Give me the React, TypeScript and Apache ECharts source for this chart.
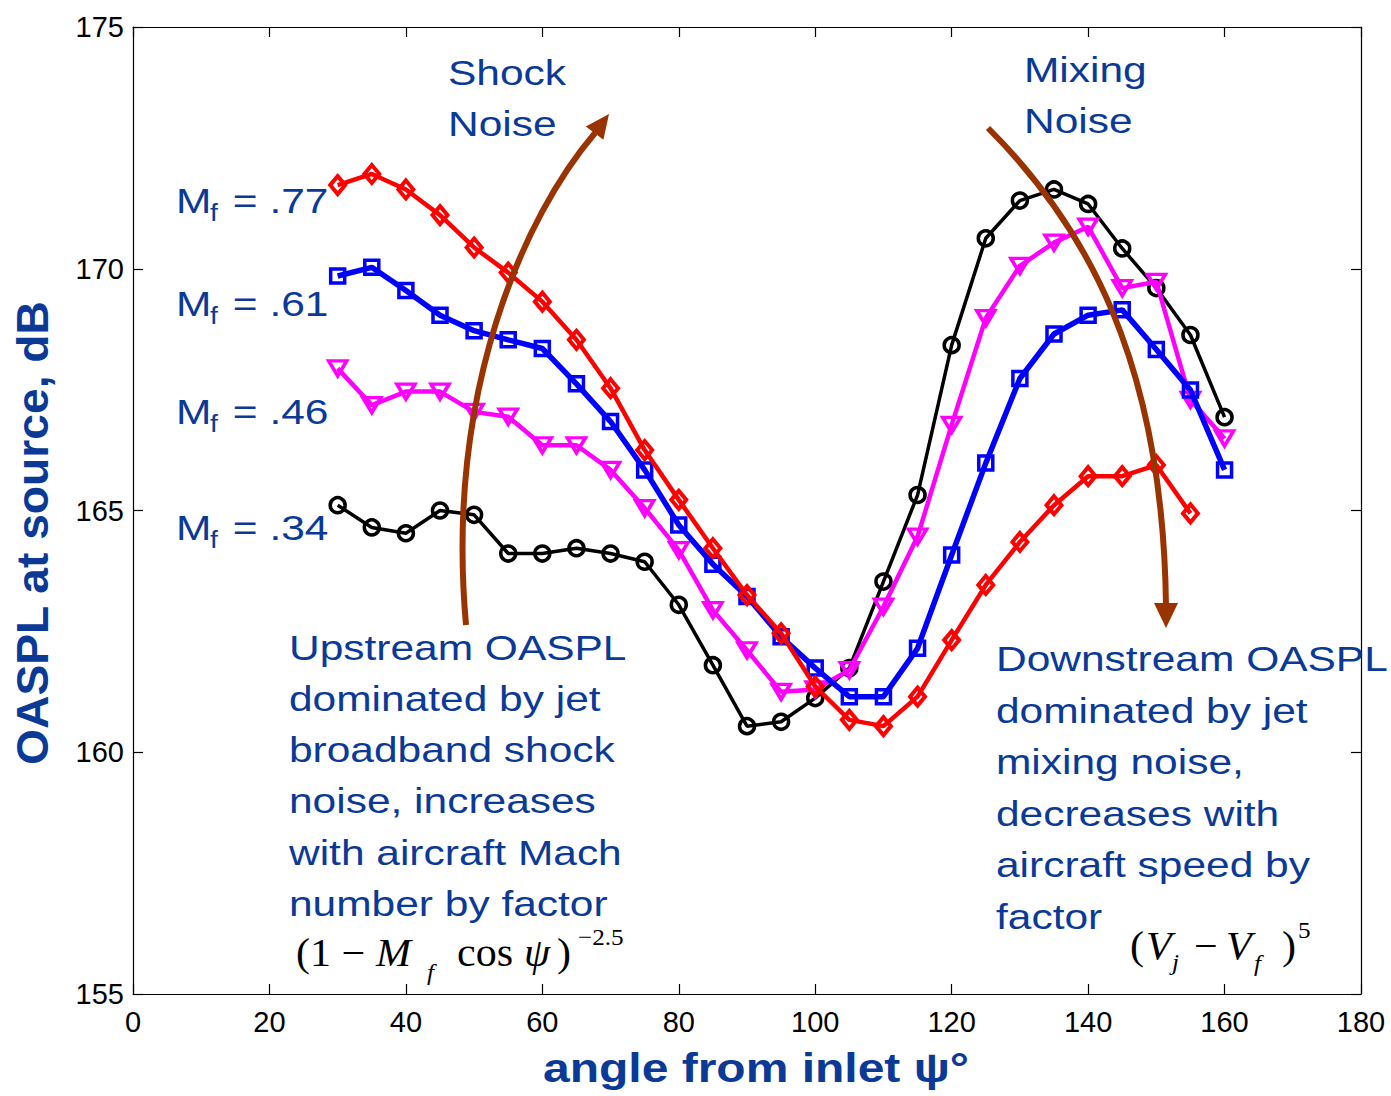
import React, { useEffect, useRef } from "react";
import * as echarts from "echarts";

const angles = [30, 35, 40, 45, 50, 55, 60, 65, 70, 75, 80, 85, 90, 95, 100, 105, 110, 115, 120, 125, 130, 135, 140, 145, 150, 155, 160];

const mf77 = [171.73, 171.96, 171.64, 171.11, 170.44, 169.92, 169.32, 168.53, 167.53, 166.25, 165.22, 164.22, 163.25, 162.46, 161.36, 160.67, 160.54, 161.15, 162.32, 163.46, 164.35, 165.11, 165.71, 165.71, 165.94, 164.94];
const mf61 = [169.85, 170.03, 169.55, 169.04, 168.72, 168.53, 168.35, 167.62, 166.84, 165.84, 164.7, 163.89, 163.22, 162.39, 161.74, 161.15, 161.15, 162.15, 164.08, 165.98, 167.73, 168.65, 169.04, 169.15, 168.33, 167.49, 165.84];
const mf46 = [167.94, 167.18, 167.46, 167.46, 167.04, 166.94, 166.35, 166.35, 165.84, 165.05, 164.18, 162.94, 162.11, 161.25, 161.3, 161.7, 163.01, 164.46, 166.77, 168.98, 170.06, 170.54, 170.87, 169.6, 169.73, 167.29, 166.49];
const mf34 = [165.11, 164.65, 164.53, 165.0, 164.91, 164.11, 164.11, 164.22, 164.11, 163.94, 163.05, 161.8, 160.54, 160.63, 161.12, 161.74, 163.53, 165.32, 168.42, 170.63, 171.41, 171.64, 171.34, 170.42, 169.6, 168.63, 166.93];

const xTicks = { min: 0, max: 180, interval: 20 };
const yTicks = { min: 155, max: 175, interval: 5 };

const TXT = "#0a3a96";
const BROWN = "#993300";
const SANS = "Liberation Sans, Arial, sans-serif";
const SERIF = "Liberation Serif, Times New Roman, serif";

function pairs(vals: number[]) {
  return vals.map((v, i) => [angles[i], v]);
}

function txt(x: number, y: number, text: string, o: any = {}) {
  const fs = o.fontSize || 36;
  return {
    type: "text",
    x,
    y,
    scaleX: o.scaleX ?? 1.18,
    scaleY: o.scaleY ?? 1,
    rotation: o.rotation || 0,
    z: 100,
    style: {
      text,
      fontSize: fs,
      fontFamily: o.fontFamily || SANS,
      fontWeight: o.fontWeight || "normal",
      fontStyle: o.fontStyle || "normal",
      fill: o.fill || TXT,
      lineHeight: o.lineHeight || fs,
      align: o.align || "left",
      textAlign: o.align || "left",
      verticalAlign: o.va || "middle",
      textVerticalAlign: o.va || "middle",
    },
  };
}

export default function App() {
  const ref = useRef<HTMLDivElement>(null);
  useEffect(() => {
    if (!ref.current) return;
    const chart = echarts.init(ref.current, null, { renderer: "svg" });

    const axisLine = { show: true, onZero: false, lineStyle: { color: "#000", width: 1.2 } };
    const tick = { show: true, inside: true, length: 10, lineStyle: { color: "#000", width: 1.2 } };
    const lbl = { color: "#000", fontSize: 29, fontFamily: SANS };

    const mfLabel = (y: number, v: string) => [
      txt(176, y, "M", { fontSize: 36 }),
      txt(210, y + 13, "f", { fontSize: 24 }),
      txt(221, y, " = " + v, { fontSize: 36 }),
    ];

    const serif = (x: number, y: number, t: string, italic = false, small = false) =>
      txt(x, y, t, { fontFamily: SERIF, fontSize: small ? 24 : 40, fontStyle: italic ? "italic" : "normal", scaleX: 1.05, fill: "#000" });

    const graphic: any[] = [
      ...mfLabel(200, ".77"),
      ...mfLabel(303, ".61"),
      ...mfLabel(411, ".46"),
      ...mfLabel(527, ".34"),
      txt(448, 46.5, "Shock\nNoise", { lineHeight: 51, va: "top" }),
      txt(1024, 43.5, "Mixing\nNoise", { lineHeight: 51, va: "top" }),
      txt(289, 621.5, "Upstream OASPL\ndominated by jet\nbroadband shock\nnoise, increases\nwith aircraft Mach\nnumber by factor", { lineHeight: 51.2, va: "top" }),
      txt(996, 632.5, "Downstream OASPL\ndominated by jet\nmixing noise,\ndecreases with\naircraft speed by\nfactor", { lineHeight: 51.6, va: "top" }),
      // formula left
      serif(296, 952, "(1 \u2212"),
      serif(376, 952, "M", true),
      serif(427, 972, "f", true, true),
      serif(457, 952, "cos"),
      serif(524, 952, "\u03c8", true),
      serif(557, 952, ")"),
      serif(578, 937, "\u22122.5", false, true),
      // formula right
      serif(1130, 945, "("),
      serif(1146, 945, "V", true),
      serif(1172, 962, "j", true, true),
      serif(1194, 945, "\u2212"),
      serif(1226, 945, "V", true),
      serif(1254, 963, "f", true, true),
      serif(1282, 945, ")"),
      serif(1298, 930, "5", false, true),
      // axis titles
      txt(33, 533, "OASPL at source, dB", { fontSize: 44, fontWeight: "bold", align: "center", rotation: Math.PI / 2, scaleX: 1.05 }),
      txt(756, 1068, "angle from inlet \u03c8\u00b0", { fontSize: 40, fontWeight: "bold", align: "center", scaleX: 1.2 }),
      // arrows
      {
        type: "bezierCurve",
        z: 90,
        shape: { x1: 466, y1: 625, cpx1: 445, cpy1: 390, cpx2: 525, cpy2: 215, x2: 595, y2: 133 },
        style: { stroke: BROWN, lineWidth: 6, fill: "none" },
      },
      {
        type: "polygon",
        z: 90,
        shape: { points: [[609, 114], [603.4, 139.8], [585.8, 126.6]] },
        style: { fill: BROWN },
      },
      {
        type: "bezierCurve",
        z: 90,
        shape: { x1: 988, y1: 128, cpx1: 1085, cpy1: 225, cpx2: 1163, cpy2: 360, x2: 1166, y2: 606 },
        style: { stroke: BROWN, lineWidth: 6, fill: "none" },
      },
      {
        type: "polygon",
        z: 90,
        shape: { points: [[1166, 628], [1154, 603], [1178, 603]] },
        style: { fill: BROWN },
      },
    ];

    const mk = (name: string, vals: number[], color: string, symbol: string, size: any, lw: number, bw: number, rotate = 0, z = 2) => ({
      name,
      type: "line",
      data: pairs(vals),
      symbol,
      symbolSize: size,
      symbolRotate: rotate,
      showAllSymbol: true,
      z,
      lineStyle: { color, width: lw },
      itemStyle: { color: "transparent", borderColor: color, borderWidth: bw },
      emphasis: { disabled: true },
    });

    chart.setOption({
      animation: false,
      backgroundColor: "#fff",
      grid: { left: 133, top: 27, right: 30, bottom: 102, containLabel: false },
      xAxis: [
        { type: "value", ...xTicks, position: "bottom", axisLine, axisTick: tick, splitLine: { show: false }, axisLabel: { ...lbl, margin: 13 } },
        { type: "value", ...xTicks, position: "top", axisLine, axisTick: tick, splitLine: { show: false }, axisLabel: { show: false } },
      ],
      yAxis: [
        { type: "value", ...yTicks, position: "left", axisLine, axisTick: tick, splitLine: { show: false }, axisLabel: { ...lbl, margin: 9 } },
        { type: "value", ...yTicks, position: "right", axisLine, axisTick: tick, splitLine: { show: false }, axisLabel: { show: false } },
      ],
      series: [
        mk("Mf = .34", mf34, "#000000", "circle", 15, 3.5, 3.5, 0, 2),
        mk("Mf = .46", mf46, "#ff00ff", "triangle", [18, 15], 4.5, 3.5, 180, 3),
        mk("Mf = .61", mf61, "#0000ff", "rect", 14, 5.5, 3.5, 0, 4),
        mk("Mf = .77", mf77, "#ff0000", "diamond", [15, 18], 4.5, 4, 0, 5),
      ],
      graphic,
    });
    return () => chart.dispose();
  }, []);
  return <div ref={ref} style={{ position: "fixed", left: 0, top: 0, width: 1391, height: 1096, background: "#fff" }} />;
}
